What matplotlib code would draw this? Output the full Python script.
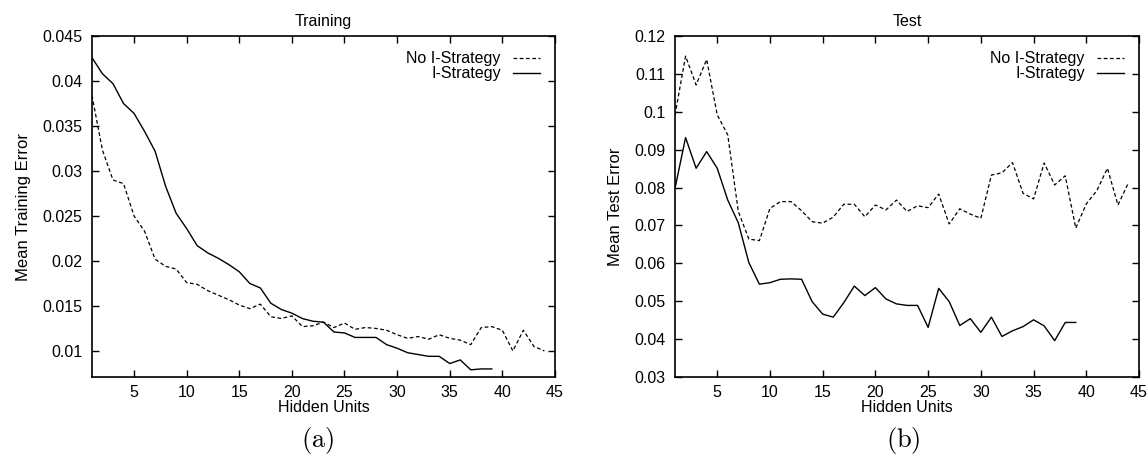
import matplotlib
matplotlib.use("Agg")
import matplotlib.pyplot as plt
from matplotlib.ticker import FuncFormatter, MultipleLocator

plt.rcParams["font.family"] = ["Liberation Sans", "DejaVu Sans"]
plt.rcParams["mathtext.fontset"] = "cm"

# Hidden units on the x axis
units_train_no = list(range(1, 45))
units_train_i = list(range(1, 40))
units_test_no = list(range(1, 45))
units_test_i = list(range(1, 40))

# (a) Training error
train_no_istrategy = [
    0.0384, 0.0323, 0.0290, 0.0286, 0.0250, 0.0233, 0.0202, 0.0194, 0.0191, 0.0176,
    0.0174, 0.0167, 0.0162, 0.0157, 0.0151, 0.0147, 0.0152, 0.0138, 0.0136, 0.0139,
    0.0127, 0.0128, 0.0132, 0.0126, 0.0131, 0.0124, 0.0126, 0.0125, 0.0123, 0.0118,
    0.0114, 0.0116, 0.0113, 0.0118, 0.0114, 0.0112, 0.0107, 0.0126, 0.0127, 0.0123,
    0.0100, 0.0123, 0.0105, 0.0100,
]
train_istrategy = [
    0.0426, 0.0408, 0.0397, 0.0375, 0.0364, 0.0344, 0.0322, 0.0283, 0.0253, 0.0236,
    0.0217, 0.0209, 0.0203, 0.0196, 0.0188, 0.0175, 0.0170, 0.0153, 0.0146, 0.0142,
    0.0136, 0.0133, 0.0132, 0.0121, 0.0120, 0.0115, 0.0115, 0.0115, 0.0107, 0.0103,
    0.0098, 0.0096, 0.0094, 0.0094, 0.0086, 0.0090, 0.0079, 0.0080, 0.0080,
]

# (b) Test error
test_no_istrategy = [
    0.0992, 0.1147, 0.1071, 0.1138, 0.0992, 0.0939, 0.0737, 0.0664, 0.0660, 0.0745,
    0.0763, 0.0763, 0.0739, 0.0710, 0.0706, 0.0722, 0.0756, 0.0756, 0.0723, 0.0754,
    0.0741, 0.0767, 0.0737, 0.0752, 0.0747, 0.0783, 0.0704, 0.0744, 0.0730, 0.0719,
    0.0833, 0.0839, 0.0866, 0.0785, 0.0770, 0.0865, 0.0807, 0.0831, 0.0693, 0.0757,
    0.0792, 0.0851, 0.0754, 0.0813,
]
test_istrategy = [
    0.0798, 0.0932, 0.0851, 0.0895, 0.0851, 0.0767, 0.0707, 0.0602, 0.0545, 0.0549,
    0.0558, 0.0559, 0.0558, 0.0499, 0.0466, 0.0458, 0.0496, 0.0540, 0.0515, 0.0536,
    0.0506, 0.0493, 0.0489, 0.0489, 0.0431, 0.0534, 0.0499, 0.0436, 0.0454, 0.0418,
    0.0458, 0.0407, 0.0422, 0.0433, 0.0451, 0.0435, 0.0396, 0.0444, 0.0444,
]

fig = plt.figure(figsize=(11.48, 4.63), dpi=100)
ax_a = fig.add_axes([0.0801, 0.1857, 0.4033, 0.7365])
ax_b = fig.add_axes([0.588, 0.1857, 0.4042, 0.7365])

fmt = FuncFormatter(lambda v, pos: "%g" % round(v, 4))
dash = (0, (3, 2))
fs = 11.5


def style_axes(ax, title, ylabel, ylim, ystep):
    ax.set_xlim(1, 45)
    ax.set_ylim(*ylim)
    ax.xaxis.set_major_locator(MultipleLocator(5))
    ax.yaxis.set_major_locator(MultipleLocator(ystep))
    ax.yaxis.set_major_formatter(fmt)
    ax.tick_params(direction="in", top=True, right=True, length=5, width=1,
                   labelsize=fs)
    ax.tick_params(axis="y", pad=7)
    ax.tick_params(axis="x", pad=6)
    for sp in ax.spines.values():
        sp.set_linewidth(1.2)
    ax.set_title(title, fontsize=fs, pad=7)
    ax.set_ylabel(ylabel, fontsize=12, labelpad=8)
    ax.set_xlabel("Hidden Units", fontsize=fs, labelpad=0)
    ax.legend(loc="upper right", frameon=False, markerfirst=False,
              fontsize=fs, handlelength=1.7, handletextpad=0.75,
              labelspacing=0.0, borderaxespad=0.55)


ax_a.plot(units_train_no, train_no_istrategy, color="black", lw=0.9,
          linestyle=dash, label="No I-Strategy")
ax_a.plot(units_train_i, train_istrategy, color="black", lw=1.0,
          label="I-Strategy")
style_axes(ax_a, "Training", "Mean Training Error", (0.0071, 0.045), 0.005)

ax_b.plot(units_test_no, test_no_istrategy, color="black", lw=0.9,
          linestyle=dash, label="No I-Strategy")
ax_b.plot(units_test_i, test_istrategy, color="black", lw=1.0,
          label="I-Strategy")
style_axes(ax_b, "Test", "Mean Test Error", (0.03, 0.12), 0.01)

fig.text(0.277, 0.048, r"$\mathrm{(a)}$", fontsize=19, ha="center", va="center")
fig.text(0.787, 0.048, r"$\mathrm{(b)}$", fontsize=19, ha="center", va="center")

fig.savefig("out.png", dpi=100)
